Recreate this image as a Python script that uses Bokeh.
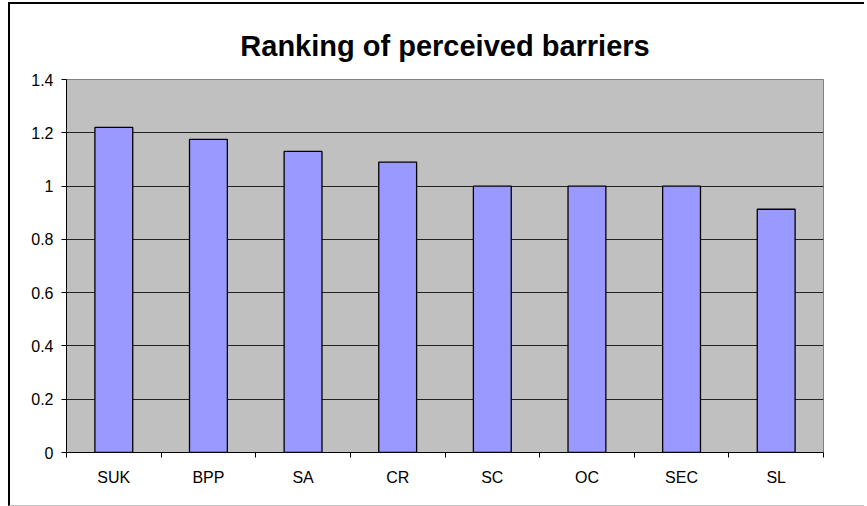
from bokeh.plotting import figure
from bokeh.models import (Range1d, FixedTicker, CustomJSTickFormatter, ColumnDataSource)
from bokeh.embed import file_html
from bokeh.resources import INLINE

categories = ["SUK", "BPP", "SA", "CR", "SC", "OC", "SEC", "SL"]
values = [1.22, 1.175, 1.13, 1.09, 1.0, 1.0, 1.0, 0.913]
y_ticks = [0, 0.2, 0.4, 0.6, 0.8, 1.0, 1.2, 1.4]
title_text = "Ranking of perceived barriers"

FONT = "Liberation Sans"
n = len(categories)

src = ColumnDataSource(dict(pos=[i + 0.5 for i in range(n)], cat=categories, val=values))

p = figure(width=856, height=504, output_backend="svg", toolbar_location=None,
           x_range=Range1d(0, n), y_range=Range1d(0, 1.4),
           min_border_left=56, min_border_right=43, min_border_top=75,
           min_border_bottom=56, background_fill_color="#c0c0c0",
           border_fill_color="white")

p.styles = {"margin-left": "8px", "margin-top": "2px",
            "border-left": "2px solid black", "border-top": "2px solid black",
            "border-bottom": "1px solid #c0c0c0"}

p.title.text = title_text
p.title.align = "center"
p.title.text_font = FONT
p.title.text_font_style = "bold"
p.title.text_font_size = "29px"
p.title.text_color = "black"
p.title.standoff = 35

p.vbar(x="pos", top="val", width=0.4, source=src, fill_color="#9999ff",
       line_color="black", line_width=1.3)

p.outline_line_color = "#808080"
p.outline_line_width = 1

# y axis
ya = p.yaxis[0]
ya.ticker = FixedTicker(ticks=y_ticks)
ya.formatter = CustomJSTickFormatter(code="return String(Math.round(tick*10)/10);")
ya.axis_line_color = "black"
ya.major_tick_line_color = "black"
ya.major_tick_out = 5
ya.major_tick_in = 0
ya.minor_tick_line_color = None
ya.major_label_text_font = FONT
ya.major_label_text_font_size = "16px"
ya.major_label_text_color = "black"
ya.major_label_standoff = 8

p.ygrid.ticker = FixedTicker(ticks=y_ticks)
p.ygrid.grid_line_color = "#222222"
p.ygrid.grid_line_width = 1
p.xgrid.grid_line_color = None

# x axis: ticks at category boundaries, labels at centers
xa = p.xaxis[0]
xa.ticker = FixedTicker(ticks=[i + 0.5 for i in range(n)],
                        minor_ticks=list(range(n + 1)))
xa.formatter = CustomJSTickFormatter(args=dict(cats=categories),
                                     code="return cats[Math.floor(tick)];")
xa.axis_line_color = "black"
xa.major_tick_out = 0
xa.major_tick_in = 0
xa.minor_tick_out = 5
xa.minor_tick_in = 0
xa.minor_tick_line_color = "black"
xa.major_label_text_font = FONT
xa.major_label_text_font_size = "16px"
xa.major_label_text_color = "black"
xa.major_label_standoff = 11

open("out.html", "w").write(file_html(p, INLINE))
